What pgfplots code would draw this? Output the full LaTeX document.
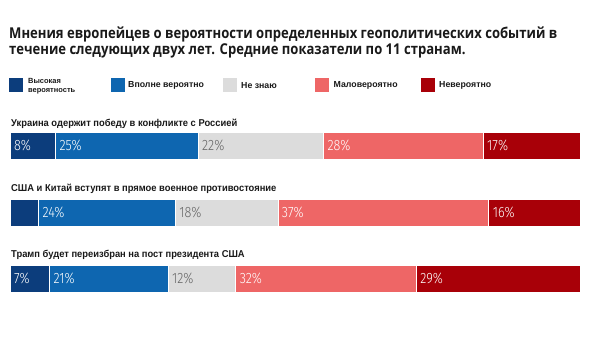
\documentclass[border=0pt]{standalone}
\usepackage{pgfplots}
\pgfplotsset{compat=1.18}
\usepackage{fontspec}
\setmainfont{Open Sans}
\newfontfamily\titlef{Open Sans}[FakeStretch=0.875]
\newfontfamily\rowf{Liberation Sans}[FakeStretch=0.94]
\newfontfamily\barf{Fira Sans Light}[FakeStretch=0.85]
\newfontfamily\legf{Liberation Sans}
\definecolor{c1}{RGB}{12,61,124}
\definecolor{c2}{RGB}{14,102,176}
\definecolor{c3}{RGB}{220,220,220}
\definecolor{c4}{RGB}{238,102,102}
\definecolor{c5}{RGB}{168,0,8}
\definecolor{gtext}{RGB}{100,100,100}
\definecolor{ttext}{RGB}{25,25,25}
\pgfplotsset{
  rowbars/.style={scale only axis, anchor=north west, width=570bp, height=27bp,
    xmin=0, ymin=-0.5, ymax=0.5, hide axis, xbar stacked, bar width=1, clip=false},
  rowlabels/.style={scale only axis, anchor=north west, width=570bp, height=27bp,
    xmin=0, ymin=-0.5, ymax=0.5, hide axis, clip=false},
  seg/.style={fill=#1, draw=white, line width=0.7bp},
  lab/.style={only marks, mark options={draw=none,fill=none}, nodes near coords,
    point meta=explicit symbolic,
    nodes near coords style={anchor=west, xshift=0.5bp, text=#1, font=\barf\fontsize{15}{15}\selectfont}},
}
\begin{document}
\begin{tikzpicture}
\path[use as bounding box] (0bp,0bp) rectangle (600bp,-358bp);
\node[anchor=base west, inner sep=0, text=ttext] at (9bp,-38bp) {\titlef\bfseries\fontsize{15}{16}\selectfont Мнения европейцев о вероятности определенных геополитических событий в};
\node[anchor=base west, inner sep=0, text=ttext] at (9bp,-54bp) {\titlef\bfseries\fontsize{15}{16}\selectfont течение следующих двух лет. Средние показатели по 11 странам.};
% legend
\fill[c1] (9bp,-78bp) rectangle (23bp,-92bp);
\node[anchor=west, align=left, inner sep=0, text=ttext, font=\legf\bfseries\fontsize{7.5}{8.5}\selectfont] at (28bp,-86bp) {Высокая\\вероятность};
\fill[c2] (110.7bp,-78bp) rectangle (124.7bp,-92bp);
\node[anchor=west, inner sep=0, text=ttext] at (128bp,-85.5bp) {\legf\bfseries\fontsize{8.8}{10}\selectfont Вполне вероятно};
\fill[c3] (222.5bp,-78bp) rectangle (236.5bp,-92bp);
\node[anchor=west, inner sep=0, text=ttext] at (241bp,-85.5bp) {\legf\bfseries\fontsize{8.8}{10}\selectfont Не знаю};
\fill[c4] (314.6bp,-78bp) rectangle (328.6bp,-92bp);
\node[anchor=west, inner sep=0, text=ttext] at (333.5bp,-85.5bp) {\legf\bfseries\fontsize{8.8}{10}\selectfont Маловероятно};
\fill[c5] (420.7bp,-78bp) rectangle (434.7bp,-92bp);
\node[anchor=west, inner sep=0, text=ttext] at (439bp,-85.5bp) {\legf\bfseries\fontsize{8.8}{10}\selectfont Невероятно};
% row titles
\node[anchor=base west, inner sep=0, text=ttext] at (11bp,-126bp) {\rowf\bfseries\fontsize{10}{12}\selectfont Украина одержит победу в конфликте с Россией};
\node[anchor=base west, inner sep=0, text=ttext] at (11bp,-191.7bp) {\rowf\bfseries\fontsize{10}{12}\selectfont США и Китай вступят в прямое военное противостояние};
\node[anchor=base west, inner sep=0, text=ttext] at (11bp,-257.7bp) {\rowf\bfseries\fontsize{10}{12}\selectfont Трамп будет переизбран на пост президента США};
% row 1
\begin{axis}[rowbars, at={(10bp,-132.3bp)}, xmax=100]
\addplot[seg=c1] coordinates {(8,0)};
\addplot[seg=c2] coordinates {(25,0)};
\addplot[seg=c3] coordinates {(22,0)};
\addplot[seg=c4] coordinates {(28,0)};
\addplot[seg=c5] coordinates {(17,0)};
\end{axis}
\begin{axis}[rowlabels, at={(10bp,-132.3bp)}, xmax=100]
\addplot[lab=white] coordinates {(0,0)[8\%] (8,0)[25\%] (55,0)[28\%] (83,0)[17\%]};
\addplot[lab=gtext] coordinates {(33,0)[22\%]};
\end{axis}
% row 2
\begin{axis}[rowbars, at={(10bp,-199.3bp)}, xmax=100]
\addplot[seg=c1] coordinates {(5,0)};
\addplot[seg=c2] coordinates {(24,0)};
\addplot[seg=c3] coordinates {(18,0)};
\addplot[seg=c4] coordinates {(37,0)};
\addplot[seg=c5] coordinates {(16,0)};
\end{axis}
\begin{axis}[rowlabels, at={(10bp,-199.3bp)}, xmax=100]
\addplot[lab=white] coordinates {(5,0)[24\%] (47,0)[37\%] (84,0)[16\%]};
\addplot[lab=gtext] coordinates {(29,0)[18\%]};
\end{axis}
% row 3
\begin{axis}[rowbars, at={(10bp,-265bp)}, xmax=101]
\addplot[seg=c1] coordinates {(7,0)};
\addplot[seg=c2] coordinates {(21,0)};
\addplot[seg=c3] coordinates {(12,0)};
\addplot[seg=c4] coordinates {(32,0)};
\addplot[seg=c5] coordinates {(29,0)};
\end{axis}
\begin{axis}[rowlabels, at={(10bp,-265bp)}, xmax=101]
\addplot[lab=white] coordinates {(0,0)[7\%] (7,0)[21\%] (40,0)[32\%] (72,0)[29\%]};
\addplot[lab=gtext] coordinates {(28,0)[12\%]};
\end{axis}
\end{tikzpicture}
\end{document}
